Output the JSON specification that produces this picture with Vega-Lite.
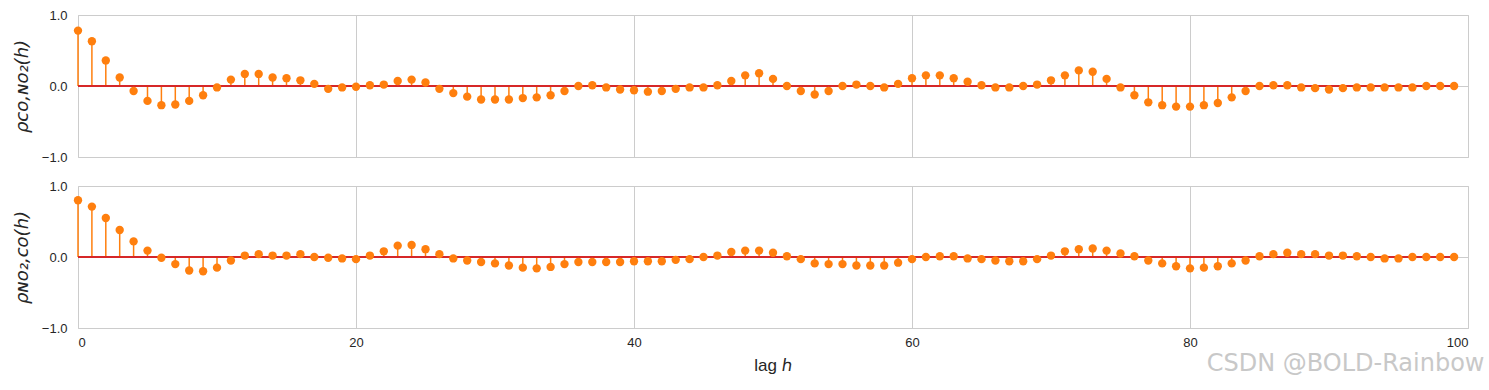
{
  "$schema": "https://vega.github.io/schema/vega-lite/v6.json",
  "background": "white",
  "padding": {"left": 12, "top": 8, "right": 21, "bottom": 5},
  "data": {"values": [
    {"lag":0,"co_no2":0.78,"no2_co":0.80},{"lag":1,"co_no2":0.63,"no2_co":0.71},{"lag":2,"co_no2":0.36,"no2_co":0.55},{"lag":3,"co_no2":0.12,"no2_co":0.38},{"lag":4,"co_no2":-0.07,"no2_co":0.22},
    {"lag":5,"co_no2":-0.21,"no2_co":0.09},{"lag":6,"co_no2":-0.27,"no2_co":-0.01},{"lag":7,"co_no2":-0.26,"no2_co":-0.10},{"lag":8,"co_no2":-0.21,"no2_co":-0.19},{"lag":9,"co_no2":-0.13,"no2_co":-0.20},
    {"lag":10,"co_no2":-0.02,"no2_co":-0.15},{"lag":11,"co_no2":0.09,"no2_co":-0.05},{"lag":12,"co_no2":0.17,"no2_co":0.02},{"lag":13,"co_no2":0.17,"no2_co":0.04},{"lag":14,"co_no2":0.12,"no2_co":0.02},
    {"lag":15,"co_no2":0.11,"no2_co":0.02},{"lag":16,"co_no2":0.08,"no2_co":0.04},{"lag":17,"co_no2":0.03,"no2_co":0.00},{"lag":18,"co_no2":-0.04,"no2_co":-0.01},{"lag":19,"co_no2":-0.02,"no2_co":-0.02},
    {"lag":20,"co_no2":-0.01,"no2_co":-0.03},{"lag":21,"co_no2":0.01,"no2_co":0.02},{"lag":22,"co_no2":0.02,"no2_co":0.08},{"lag":23,"co_no2":0.07,"no2_co":0.16},{"lag":24,"co_no2":0.09,"no2_co":0.17},
    {"lag":25,"co_no2":0.05,"no2_co":0.11},{"lag":26,"co_no2":-0.04,"no2_co":0.04},{"lag":27,"co_no2":-0.10,"no2_co":-0.02},{"lag":28,"co_no2":-0.15,"no2_co":-0.05},{"lag":29,"co_no2":-0.19,"no2_co":-0.07},
    {"lag":30,"co_no2":-0.19,"no2_co":-0.09},{"lag":31,"co_no2":-0.19,"no2_co":-0.12},{"lag":32,"co_no2":-0.17,"no2_co":-0.15},{"lag":33,"co_no2":-0.16,"no2_co":-0.16},{"lag":34,"co_no2":-0.13,"no2_co":-0.14},
    {"lag":35,"co_no2":-0.07,"no2_co":-0.10},{"lag":36,"co_no2":0.00,"no2_co":-0.07},{"lag":37,"co_no2":0.01,"no2_co":-0.07},{"lag":38,"co_no2":-0.02,"no2_co":-0.07},{"lag":39,"co_no2":-0.05,"no2_co":-0.07},
    {"lag":40,"co_no2":-0.06,"no2_co":-0.06},{"lag":41,"co_no2":-0.08,"no2_co":-0.06},{"lag":42,"co_no2":-0.07,"no2_co":-0.06},{"lag":43,"co_no2":-0.04,"no2_co":-0.04},{"lag":44,"co_no2":-0.02,"no2_co":-0.03},
    {"lag":45,"co_no2":-0.02,"no2_co":0.00},{"lag":46,"co_no2":0.01,"no2_co":0.02},{"lag":47,"co_no2":0.07,"no2_co":0.07},{"lag":48,"co_no2":0.15,"no2_co":0.09},{"lag":49,"co_no2":0.18,"no2_co":0.09},
    {"lag":50,"co_no2":0.10,"no2_co":0.06},{"lag":51,"co_no2":0.00,"no2_co":0.01},{"lag":52,"co_no2":-0.07,"no2_co":-0.03},{"lag":53,"co_no2":-0.12,"no2_co":-0.09},{"lag":54,"co_no2":-0.07,"no2_co":-0.10},
    {"lag":55,"co_no2":0.00,"no2_co":-0.10},{"lag":56,"co_no2":0.02,"no2_co":-0.12},{"lag":57,"co_no2":0.00,"no2_co":-0.12},{"lag":58,"co_no2":-0.02,"no2_co":-0.12},{"lag":59,"co_no2":0.03,"no2_co":-0.08},
    {"lag":60,"co_no2":0.11,"no2_co":-0.03},{"lag":61,"co_no2":0.15,"no2_co":0.00},{"lag":62,"co_no2":0.15,"no2_co":0.01},{"lag":63,"co_no2":0.11,"no2_co":0.01},{"lag":64,"co_no2":0.06,"no2_co":-0.02},
    {"lag":65,"co_no2":0.01,"no2_co":-0.03},{"lag":66,"co_no2":-0.02,"no2_co":-0.05},{"lag":67,"co_no2":-0.02,"no2_co":-0.06},{"lag":68,"co_no2":0.00,"no2_co":-0.06},{"lag":69,"co_no2":0.02,"no2_co":-0.03},
    {"lag":70,"co_no2":0.08,"no2_co":0.02},{"lag":71,"co_no2":0.15,"no2_co":0.08},{"lag":72,"co_no2":0.22,"no2_co":0.11},{"lag":73,"co_no2":0.20,"no2_co":0.12},{"lag":74,"co_no2":0.10,"no2_co":0.09},
    {"lag":75,"co_no2":-0.02,"no2_co":0.05},{"lag":76,"co_no2":-0.13,"no2_co":0.01},{"lag":77,"co_no2":-0.23,"no2_co":-0.05},{"lag":78,"co_no2":-0.27,"no2_co":-0.09},{"lag":79,"co_no2":-0.29,"no2_co":-0.13},
    {"lag":80,"co_no2":-0.29,"no2_co":-0.16},{"lag":81,"co_no2":-0.27,"no2_co":-0.15},{"lag":82,"co_no2":-0.24,"no2_co":-0.13},{"lag":83,"co_no2":-0.16,"no2_co":-0.09},{"lag":84,"co_no2":-0.07,"no2_co":-0.05},
    {"lag":85,"co_no2":0.00,"no2_co":0.01},{"lag":86,"co_no2":0.01,"no2_co":0.04},{"lag":87,"co_no2":0.01,"no2_co":0.06},{"lag":88,"co_no2":-0.02,"no2_co":0.04},{"lag":89,"co_no2":-0.03,"no2_co":0.04},
    {"lag":90,"co_no2":-0.05,"no2_co":0.02},{"lag":91,"co_no2":-0.03,"no2_co":0.02},{"lag":92,"co_no2":-0.02,"no2_co":0.01},{"lag":93,"co_no2":-0.02,"no2_co":0.00},{"lag":94,"co_no2":-0.02,"no2_co":-0.02},
    {"lag":95,"co_no2":-0.02,"no2_co":-0.02},{"lag":96,"co_no2":-0.02,"no2_co":0.00},{"lag":97,"co_no2":0.00,"no2_co":0.00},{"lag":98,"co_no2":0.00,"no2_co":0.00},{"lag":99,"co_no2":0.00,"no2_co":0.00}
  ]},
  "title": {"text": "CSDN @BOLD-Rainbow", "orient": "bottom", "anchor": "end", "fontSize": 24, "color": "#c8c8c8", "font": "DejaVu Sans", "fontWeight": "normal", "offset": -22, "dx": 16},
  "spacing": 14,
  "vconcat": [
    {
      "width": 1390, "height": 142,
      "layer": [
        {"mark": {"type": "rule", "color": "#ff7f0e", "strokeWidth": 1.5},
         "encoding": {
           "x": {"field": "lag", "type": "quantitative", "scale": {"domain": [0, 100]},
                 "axis": {"values": [0,20,40,60,80,100], "labels": false, "ticks": false, "domain": false, "title": null, "grid": true}},
           "y": {"field": "co_no2", "type": "quantitative", "scale": {"domain": [-1, 1]}, "title": "ρᴄᴏ,ɴᴏ₂(h)",
                 "axis": {"values": [-1,-0.5,0,0.5,1], "format": ".1f", "labelExpr": "replace(datum.label, '-', '−')"}},
           "y2": {"datum": 0}}},
        {"mark": {"type": "rule", "color": "#d62728", "strokeWidth": 2},
         "encoding": {
           "x": {"aggregate": "min", "field": "lag", "type": "quantitative"},
           "x2": {"aggregate": "max", "field": "lag"},
           "y": {"datum": 0}}},
        {"mark": {"type": "point", "filled": true, "opacity": 1, "color": "#ff7f0e", "size": 70},
         "encoding": {
           "x": {"field": "lag", "type": "quantitative"},
           "y": {"field": "co_no2", "type": "quantitative", "title": "ρᴄᴏ,ɴᴏ₂(h)"}}}
      ]
    },
    {
      "width": 1390, "height": 142,
      "layer": [
        {"mark": {"type": "rule", "color": "#ff7f0e", "strokeWidth": 1.5},
         "encoding": {
           "x": {"field": "lag", "type": "quantitative", "scale": {"domain": [0, 100]}, "title": "lag ℎ",
                 "axis": {"values": [0,20,40,60,80,100], "ticks": false, "domain": false, "grid": true, "titleFont": "Liberation Sans", "titleFontSize": 17}},
           "y": {"field": "no2_co", "type": "quantitative", "scale": {"domain": [-1, 1]}, "title": "ρɴᴏ₂,ᴄᴏ(h)",
                 "axis": {"values": [-1,-0.5,0,0.5,1], "format": ".1f", "labelExpr": "replace(datum.label, '-', '−')"}},
           "y2": {"datum": 0}}},
        {"mark": {"type": "rule", "color": "#d62728", "strokeWidth": 2},
         "encoding": {
           "x": {"aggregate": "min", "field": "lag", "type": "quantitative"},
           "x2": {"aggregate": "max", "field": "lag"},
           "y": {"datum": 0}}},
        {"mark": {"type": "point", "filled": true, "opacity": 1, "color": "#ff7f0e", "size": 70},
         "encoding": {
           "x": {"field": "lag", "type": "quantitative", "title": "lag ℎ"},
           "y": {"field": "no2_co", "type": "quantitative", "title": "ρɴᴏ₂,ᴄᴏ(h)"}}}
      ]
    }
  ],
  "config": {
    "font": "Liberation Sans",
    "view": {"stroke": "#cccccc", "strokeWidth": 1},
    "axis": {
      "grid": true, "gridColor": "#cccccc", "gridWidth": 1,
      "ticks": false, "domain": false,
      "labelFont": "Liberation Sans", "labelFontSize": 13, "labelColor": "#262626", "labelPadding": 8,
      "titleColor": "#262626", "titleFontWeight": "normal"
    },
    "axisY": {"titleFont": "DejaVu Sans", "titleFontSize": 18, "titleFontStyle": "italic", "titlePadding": 10, "labelPadding": 11},
    "axisX": {"titlePadding": 8}
  }
}
